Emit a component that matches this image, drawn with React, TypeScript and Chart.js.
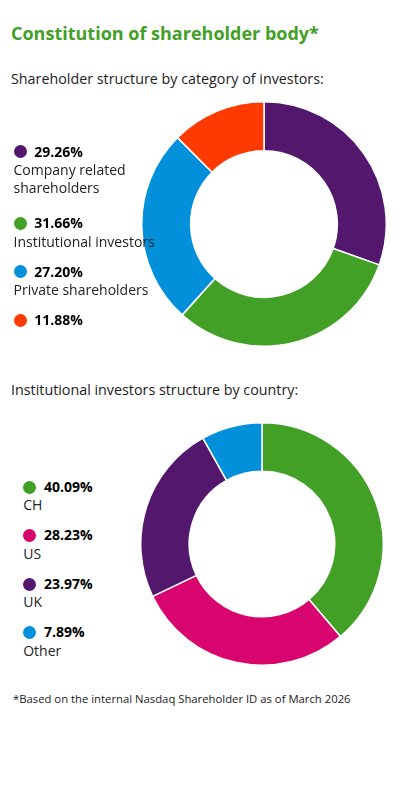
import React, { useEffect, useRef } from "react";
import { Chart, registerables } from "chart.js";
Chart.register(...registerables);

const titleText = "Constitution of shareholder body*";
const subtitle1 = "Shareholder structure by category of investors:";
const subtitle2 = "Institutional investors structure by country:";
const footnote = "*Based on the internal Nasdaq Shareholder ID as of March 2026";

// Category of investors: legend percentages (as printed) and slice sizes (as drawn)
const categoryLabels = ["Company related\nshareholders", "Institutional investors", "Private shareholders", ""];
const categoryPercents = ["29.26%", "31.66%", "27.20%", "11.88%"];
const categoryValues = [30.4, 31.2, 25.8, 12.5];
const categoryColors = ["#54176e", "#42a026", "#0390da", "#ff3a00"];

// Institutional investors by country
const countryLabels = ["CH", "US", "UK", "Other"];
const countryPercents = ["40.09%", "28.23%", "23.97%", "7.89%"];
const countryValues = [38.8, 29.1, 24.0, 8.1];
const countryColors = ["#42a026", "#d8056f", "#54176e", "#0390da"];

const FONT = "'Open Sans', 'Noto Sans', sans-serif";
const GREEN = "#42a026";

function Donut({ values, colors, labels, left, top, size }: any) {
  const ref = useRef<HTMLCanvasElement>(null);
  useEffect(() => {
    if (!ref.current) return;
    const chart = new Chart(ref.current, {
      type: "doughnut",
      data: {
        labels,
        datasets: [
          {
            data: values,
            backgroundColor: colors,
            borderColor: "#ffffff",
            borderWidth: 1.5,
          },
        ],
      },
      options: {
        animation: false,
        responsive: false,
        maintainAspectRatio: false,
        cutout: "60%",
        layout: { padding: 0 },
        plugins: { legend: { display: false }, tooltip: { enabled: false } },
      },
    });
    return () => chart.destroy();
  }, []);
  return (
    <canvas
      ref={ref}
      width={size}
      height={size}
      style={{ position: "absolute", left, top, width: size, height: size, zIndex: 0 }}
    />
  );
}

function Legend({ percents, colors, labels, left, top, firstGap }: any) {
  return (
    <div style={{ position: "absolute", left, top, zIndex: 1, fontFamily: FONT, fontSize: 14, lineHeight: "18.4px", color: "#222" }}>
      {percents.map((p: string, i: number) => (
        <div key={i} style={{ marginBottom: i === 0 ? firstGap : 11.6 }}>
          <div style={{ display: "flex", alignItems: "center", height: 18.4 }}>
            <span
              style={{
                display: "inline-block",
                width: 13,
                height: 13,
                borderRadius: "50%",
                background: colors[i],
                marginRight: 7.8,
              }}
            />
            <span style={{ fontWeight: 700, color: "#000" }}>{p}</span>
          </div>
          {labels[i] ? <div style={{ whiteSpace: "pre" }}>{labels[i]}</div> : null}
        </div>
      ))}
    </div>
  );
}

export default function App() {
  return (
    <div style={{ position: "fixed", left: 0, top: 0, width: 400, height: 800, background: "#fff", overflow: "hidden" }}>
      <div style={{ position: "absolute", left: 11, top: 21, fontFamily: FONT, fontWeight: 700, fontSize: 18, lineHeight: "24px", color: GREEN, whiteSpace: "nowrap" }}>
        {titleText}
      </div>
      <div style={{ position: "absolute", left: 11, top: 67.5, fontFamily: FONT, fontSize: 14.3, lineHeight: "22px", color: "#222", whiteSpace: "nowrap" }}>
        {subtitle1}
      </div>
      <Donut values={categoryValues} colors={categoryColors} labels={categoryLabels} left={141} top={100.5} size={246} />
      <Legend percents={categoryPercents} colors={categoryColors} labels={categoryLabels} left={13.5} top={142.5} firstGap={16.6} />
      <div style={{ position: "absolute", left: 11, top: 378.5, fontFamily: FONT, fontSize: 14.3, lineHeight: "22px", color: "#222", whiteSpace: "nowrap" }}>
        {subtitle2}
      </div>
      <Donut values={countryValues} colors={countryColors} labels={countryLabels} left={139.5} top={422} size={244} />
      <Legend percents={countryPercents} colors={countryColors} labels={countryLabels} left={23.2} top={478.1} firstGap={11.6} />
      <div style={{ position: "absolute", left: 13, top: 690, fontFamily: FONT, fontSize: 11.3, lineHeight: "18px", color: "#222", whiteSpace: "nowrap" }}>
        {footnote}
      </div>
    </div>
  );
}
